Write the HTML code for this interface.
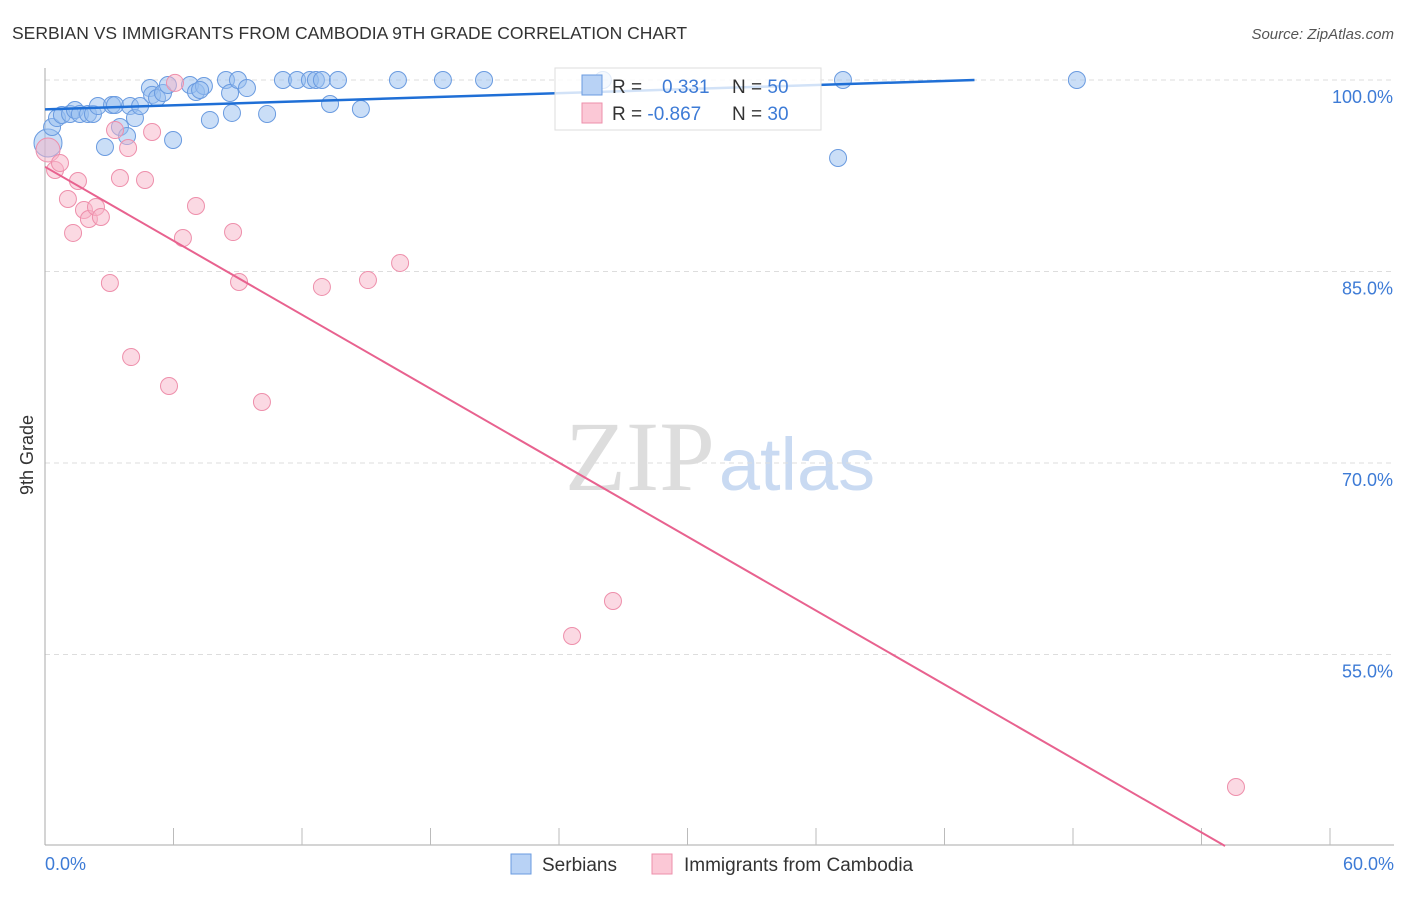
<!DOCTYPE html>
<html><head><meta charset="utf-8"><style>
body{margin:0;background:#fff;font-family:"Liberation Sans",sans-serif;}
</style></head><body>
<svg id="chart" width="1406" height="892" xmlns="http://www.w3.org/2000/svg" font-family="Liberation Sans, sans-serif">
<text x="12" y="39" font-size="17.5" fill="#333">SERBIAN VS IMMIGRANTS FROM CAMBODIA 9TH GRADE CORRELATION CHART</text>
<text x="1394" y="39" font-size="15" fill="#555" font-style="italic" text-anchor="end">Source: ZipAtlas.com</text>
<text x="720" y="490" font-size="100" text-anchor="middle" fill="#ddd" font-family="Liberation Serif, serif">ZIP<tspan fill="#c9daf2" font-family="Liberation Sans, sans-serif" font-size="74" dx="4">atlas</tspan></text>
<text transform="translate(33,455) rotate(-90)" font-size="18" fill="#333" text-anchor="middle">9th Grade</text>
<g id="grid"></g><g id="axes"></g><g id="pts"></g><g id="lines"></g>
<g>
<rect x="555" y="68" width="266" height="62" fill="rgba(255,255,255,0.8)" stroke="#ddd"/>
<rect x="582" y="75" width="20" height="20" fill="#b8d2f5" stroke="#6a9be0"/>
<rect x="582" y="103" width="20" height="20" fill="#fbc8d6" stroke="#ee8fab"/>
<text x="612" y="93" font-size="19" fill="#333">R = <tspan fill="#3d7bd6" x="662">0.331</tspan><tspan x="732" fill="#333">N = </tspan><tspan fill="#3d7bd6">50</tspan></text>
<text x="612" y="120" font-size="19" fill="#333">R = <tspan fill="#3d7bd6">-0.867</tspan><tspan x="732" fill="#333">N = </tspan><tspan fill="#3d7bd6">30</tspan></text>
</g>
<g>
<rect x="511" y="854" width="20" height="20" fill="#b8d2f5" stroke="#6a9be0"/>
<text x="542" y="871" font-size="19" fill="#333">Serbians</text>
<rect x="652" y="854" width="20" height="20" fill="#fbc8d6" stroke="#ee8fab"/>
<text x="684" y="871" font-size="19" fill="#333">Immigrants from Cambodia</text>
</g>
</svg>
<script>
const serbX=[0.14,0.33,0.56,0.79,1.17,1.40,1.63,2.01,2.24,2.47,2.80,3.13,3.27,3.50,3.83,3.97,4.20,4.44,4.90,5.00,5.23,5.51,5.74,5.98,6.77,7.05,7.42,7.70,8.45,8.64,8.73,9.01,9.43,10.37,11.11,11.77,12.37,12.65,12.93,13.68,13.31,14.75,16.48,18.58,20.50,26.05,37.26,37.03,48.18,7.24];
const serbY=[95.07,96.32,97.02,97.26,97.34,97.65,97.34,97.34,97.34,97.96,94.75,98.04,98.04,96.32,95.61,97.96,97.02,97.96,99.37,98.83,98.59,98.98,99.61,95.30,99.61,99.06,99.53,96.87,100,98.98,97.42,100,99.37,97.34,100,100,100,100,100,100,98.12,97.73,100,100,100,100,100,93.89,100,99.22];
const cambX=[0.14,0.47,0.70,1.07,1.31,1.54,1.82,2.05,2.38,2.61,3.03,3.27,3.50,3.88,4.02,4.67,5.00,5.79,6.07,6.44,7.05,8.78,9.06,10.13,12.93,15.08,16.58,24.61,26.52,55.61];
const cambY=[94.52,92.95,93.50,90.68,88.02,92.09,89.82,89.11,90.05,89.27,84.10,96.08,92.32,94.67,78.30,92.17,95.93,76.03,99.77,87.62,90.13,88.09,84.18,74.78,83.79,84.33,85.67,56.45,59.19,44.62];
const yTicks=[100,85,70,55];
const serbTrend=[0,97.7,43.4,100];
const cambTrend=[0,93.2,55.1,40];
const NS='http://www.w3.org/2000/svg';
const X=v=>45+v/60*1285, Y=v=>80+(100-v)/15*191.5;
function mk(tag,attrs,parent){const e=document.createElementNS(NS,tag);for(const k in attrs)e.setAttribute(k,attrs[k]);document.getElementById(parent).appendChild(e);return e;}
yTicks.forEach(t=>{
 const l=mk('line',{x1:45,x2:1394,y1:Y(t),y2:Y(t),stroke:'#ddd','stroke-dasharray':'5,4'},'grid');
 
 
 const tx=mk('text',{x:1393,y:Y(t)+23,'font-size':18,fill:'#3d7bd6','text-anchor':'end'},'grid');
 tx.textContent=t.toFixed(1)+'%';
 
 
});
const ax=mk('line',{x1:45,x2:45,y1:68,y2:845,stroke:'#aaa'},'axes');


const bx=mk('line',{x1:45,x2:1394,y1:845,y2:845,stroke:'#aaa'},'axes');


for(let i=1;i<=10;i++){const t=mk('line',{x1:X(i*6),x2:X(i*6),y1:828,y2:845,stroke:'#bbb'},'axes');
 
 }
[['0.0%',45,'start'],['60.0%',1394,'end']].forEach(a=>{const t=mk('text',{x:a[1],y:870,'font-size':18,fill:'#3d7bd6','text-anchor':a[2]},'axes');t.textContent=a[0];
 
 });
serbX.forEach((x,i)=>{const c=mk('circle',{cx:X(x),cy:Y(serbY[i]),r:i==0?14:8.5,fill:'rgba(150,190,240,0.5)',stroke:'#6a9be0','stroke-width':1},'pts');
 
 });
cambX.forEach((x,i)=>{const c=mk('circle',{cx:X(x),cy:Y(cambY[i]),r:i==0?12:8.5,fill:'rgba(248,180,200,0.5)',stroke:'#ee8fab','stroke-width':1},'pts');
 
 });
const l1=mk('line',{x1:X(serbTrend[0]),y1:Y(serbTrend[1]),x2:X(serbTrend[2]),y2:Y(serbTrend[3]),stroke:'#1f6fd6','stroke-width':2.5},'lines');


const l2=mk('line',{x1:X(cambTrend[0]),y1:Y(cambTrend[1]),x2:X(cambTrend[2]),y2:Y(cambTrend[3]),stroke:'#e8628f','stroke-width':2},'lines');


</script>
</body></html>
